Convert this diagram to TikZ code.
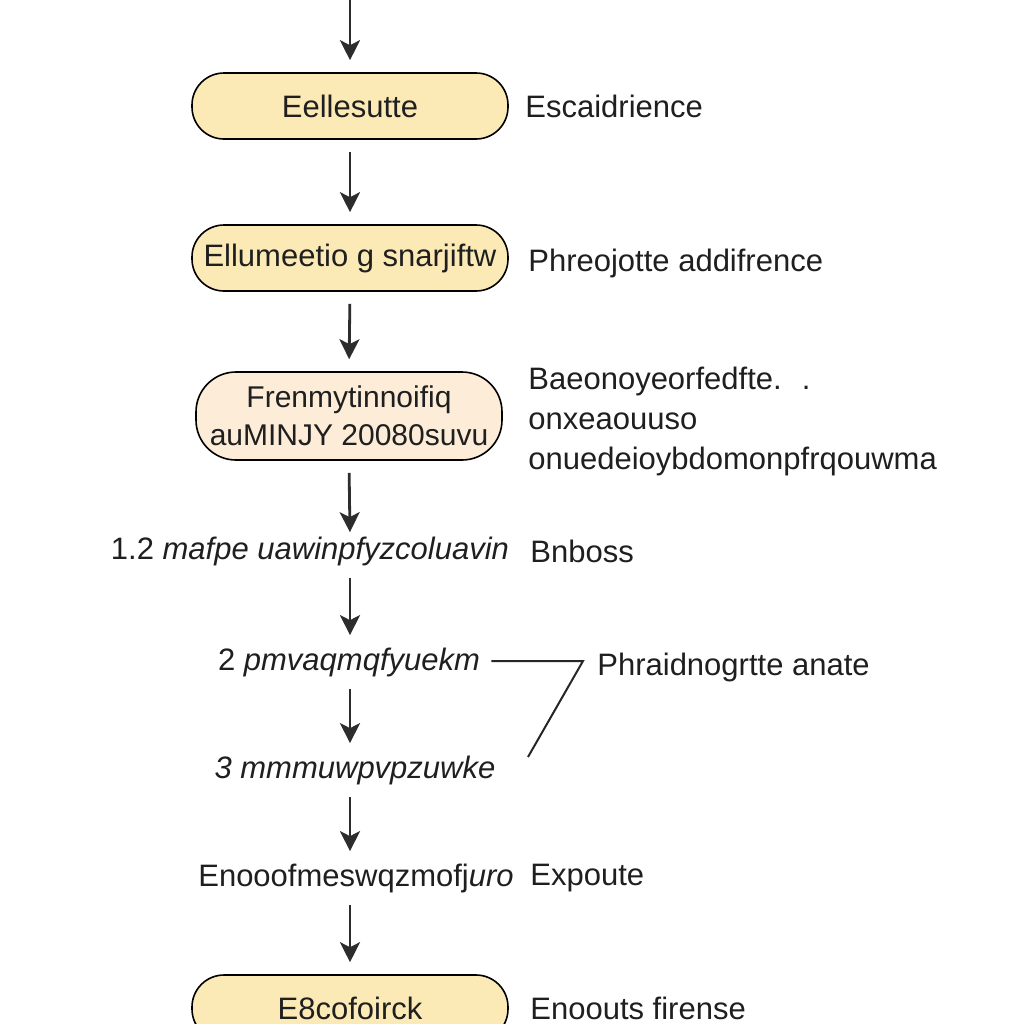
\documentclass[tikz,border=0pt]{standalone}
\usepackage{fontspec}
\setmainfont{Liberation Sans}
\usetikzlibrary{arrows.meta,calc}
\definecolor{boxyellow}{RGB}{252,234,182}
\definecolor{boxpeach}{RGB}{252,236,216}
\definecolor{inkgray}{RGB}{45,45,45}
\tikzset{
  stadium/.style={draw=black, line width=0.8pt, rounded corners=16pt, minimum width=158pt, minimum height=33pt, inner sep=0pt, align=center, text=black!88},
  flowtext/.style={inner sep=0pt, minimum height=14pt, text=black!88},
  sidelabel/.style={anchor=west, inner sep=0pt, text=black!88, align=left},
  arr/.style={draw=inkgray, line width=1.4pt, -{Stealth[length=10pt,width=10pt,inset=2.5pt]}, shorten <=6pt, shorten >=6pt},
  bracketline/.style={draw=black!85, line width=1pt}
}
\begin{document}
\begin{tikzpicture}[x=0.5pt,y=-0.5pt,font=\fontsize{15.5}{18}\selectfont]
\useasboundingbox (0,0) rectangle (1024,1024);
\clip (0,0) rectangle (1024,1024);
\fill[white] (0,0) rectangle (1024,1024);
\coordinate (axis) at (350,0);
\coordinate (topstart) at (350,-12);

\node[stadium, fill=boxyellow] (b1) at (350,106) {Eellesutte};
\node[stadium, fill=boxyellow] (b2) at (350,258) {Ellumeetio g snarjiftw};
\node[stadium, fill=boxpeach, minimum width=153pt, minimum height=44pt, rounded corners=20pt, font=\fontsize{15}{19}\selectfont] (b3) at (349,416) {Frenmytinnoifiq\\auMINJY 20080suvu};
\node[flowtext] (t4) at (310,551) {1.2 \textit{mafpe uawinpfyzcoluavin}};
\node[flowtext] (t5) at (349,662) {2 \textit{pmvaqmqfyuekm}};
\node[flowtext] (t6) at (355,770) {\textit{3 mmmuwpvpzuwke}};
\node[flowtext] (t7) at (356,878) {Enooofmeswqzmofj\textit{uro}};
\node[stadium, fill=boxyellow] (b8) at (350,1008) {E8cofoirck};

\node[sidelabel] (l1) at (525,106) {Escaidrience};
\node[sidelabel] (l2) at (528,263) {Phreojotte addifrence};
\node[sidelabel, font=\fontsize{15.5}{20}\selectfont] (l3) at (528,421) {Baeonoyeorfedfte. \ .\\onxeaouuso\\onuedeioybdomonpfrqouwma};
\node[sidelabel] (l4) at (530,551) {Bnboss};
\node[sidelabel] (l5) at (597,667) {Phraidnogrtte anate};
\node[sidelabel] (l7) at (530,878) {Expoute};
\node[sidelabel] (l8) at (530,1008) {Enoouts firense};

\draw[arr] (topstart) -- (b1.north);
\draw[arr] (b1.south) -- (b2.north);
\draw[arr] (b2.south) -- (b3.north);
\draw[arr, shorten >=2pt] (b3.south) -- (t4.north -| axis);
\draw[arr] (t4.south -| axis) -- (t5.north -| axis);
\draw[arr] (t5.south -| axis) -- (t6.north -| axis);
\draw[arr] (t6.south -| axis) -- (t7.north -| axis);
\draw[arr] (t7.south -| axis) -- (b8.north);

\coordinate (bend) at (583,661);
\coordinate (bracketend) at (528,757);
\draw[bracketline] ($(t5.east)+(11,-1)$) -- (bend) -- (bracketend);
\end{tikzpicture}
\end{document}
